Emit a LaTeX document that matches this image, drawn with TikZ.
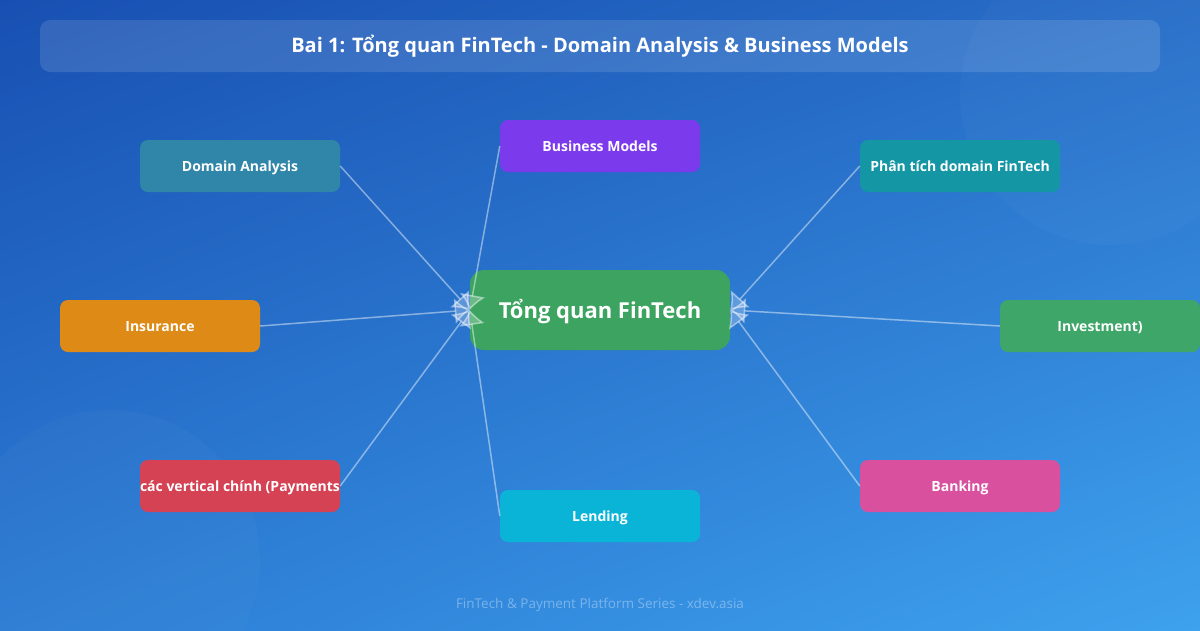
\documentclass[tikz,border=0pt]{standalone}
\usepackage{fontspec}
\setmainfont{Open Sans}
\usetikzlibrary{arrows.meta,positioning,calc,shadings}
\definecolor{skytl}{RGB}{24,80,178}
\definecolor{skytr}{RGB}{40,110,200}
\definecolor{skybl}{RGB}{44,124,212}
\definecolor{skybr}{RGB}{62,162,238}
\definecolor{dusk}{RGB}{48,134,168}
\definecolor{violet}{RGB}{124,58,237}
\definecolor{lagoon}{RGB}{20,150,164}
\definecolor{amber}{RGB}{222,138,22}
\definecolor{leaf}{RGB}{60,164,96}
\definecolor{mint}{RGB}{62,166,104}
\definecolor{brick}{RGB}{212,66,84}
\definecolor{aqua}{RGB}{10,180,214}
\definecolor{rose}{RGB}{216,80,158}
\tikzset{
  >={Latex[length=15pt,width=26pt]},
  topic/.style={fill=#1,text=white,rounded corners=8pt,minimum width=200pt,
    minimum height=52pt,inner sep=0pt,text height=10pt,text depth=0pt,
    font=\fontsize{14}{16}\selectfont\bfseries},
  topic/.default=leaf,
  hub/.style={fill=leaf,text=white,rounded corners=14pt,minimum width=260pt,
    minimum height=80pt,inner sep=0pt,text height=16pt,text depth=0pt,
    font=\fontsize{22}{26}\selectfont\bfseries},
  link/.style={->,draw=white,draw opacity=0.45,fill opacity=0.25,line width=1.5pt},
  banner/.style={fill=white,fill opacity=0.12,rounded corners=10pt},
  tag/.style={font=\fontsize{13.5}{15}\selectfont,text=white,text opacity=0.35},
}
\begin{document}
\begin{tikzpicture}[x=1pt,y=-1pt]
  \useasboundingbox (0,0) rectangle (1200,630);
  \shade[upper left=skytl,upper right=skytr,lower left=skybl,lower right=skybr]
    (0,0) rectangle (1200,630);
  % faint decoration
  \fill[white,opacity=0.025] (1110,95) circle (150pt);
  \fill[white,opacity=0.025] (110,560) circle (150pt);
  % header
  \path[banner] (40,20) rectangle (1160,72);
  \node[text=white,font=\fontsize{20}{24}\selectfont\bfseries,text height=14pt,text depth=0pt]
    (title) at (600,45) {Bai 1: Tổng quan FinTech - Domain Analysis \& Business Models};
  % center
  \node[hub] (hub) at (600,310) {Tổng quan FinTech};
  % topics
  \foreach \n/\x/\y/\c/\t in {dom/240/166/dusk/Domain Analysis,
      biz/600/146/violet/Business Models,
      phan/960/166/lagoon/Phân tích domain FinTech,
      ins/160/326/amber/Insurance,
      inv/1100/326/mint/Investment),
      vert/240/486/brick/các vertical chính (Payments,
      lend/600/516/aqua/Lending,
      bank/960/486/rose/Banking}{
    \node[topic=\c] (\n) at (\x,\y) {\t};
  }
  % links
  \foreach \n/\a/\b in {dom/east/west,ins/east/west,vert/east/west,biz/west/west,
      lend/west/west,phan/west/east,inv/west/east,bank/west/east}{
    \draw[link] (\n.\a) -- (hub.\b);
  }
  \node[tag] (foot) at (600,605) {FinTech \& Payment Platform Series - xdev.asia};
\end{tikzpicture}
\end{document}
